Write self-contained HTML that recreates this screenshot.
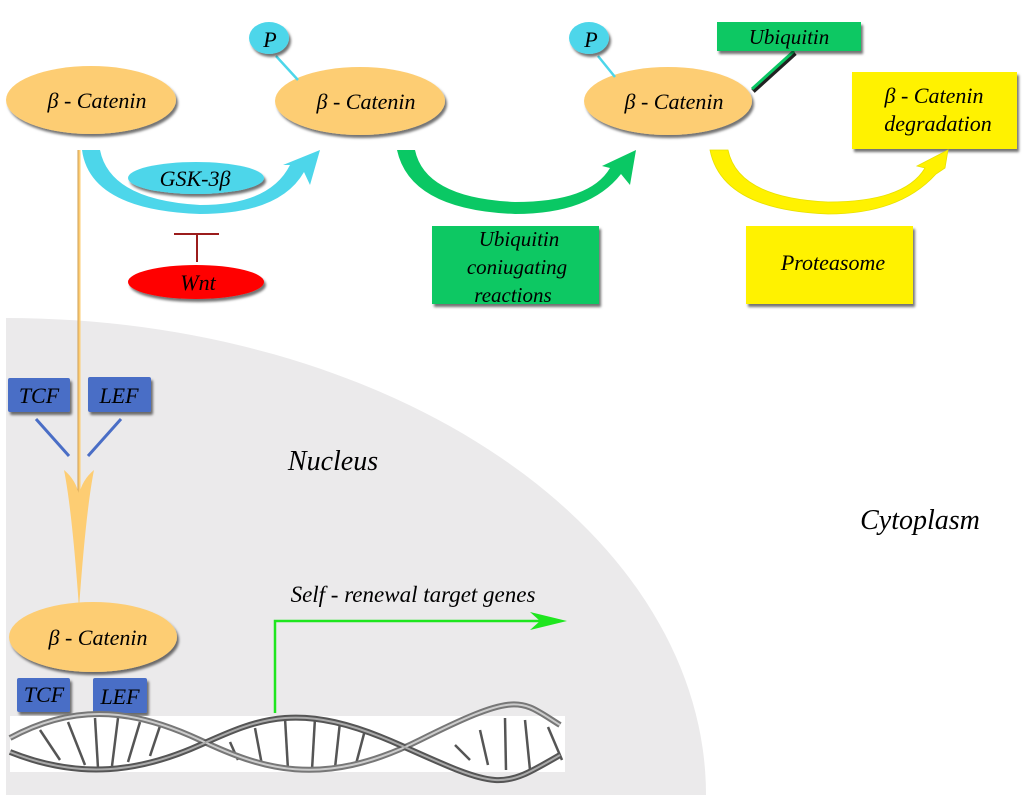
<!DOCTYPE html>
<html><head><meta charset="utf-8"><style>
html,body{margin:0;padding:0;background:#fff;width:1024px;height:800px;overflow:hidden}
svg text{font-family:"Liberation Serif",serif;font-style:italic;fill:#000}
</style></head><body>
<svg width="1024" height="800" viewBox="0 0 1024 800" xmlns="http://www.w3.org/2000/svg">
<defs>
<filter id="sh" x="-10%" y="-10%" width="130%" height="140%"><feDropShadow dx="2" dy="3" stdDeviation="1.2" flood-color="#000" flood-opacity="0.55"/></filter>
</defs>
<!-- nucleus -->
<path d="M6,795 L6,318 A700,477 0 0 1 706,795 Z" fill="#ebeaeb"/>
<!-- top ellipses -->
<g filter="url(#sh)">
<ellipse cx="91" cy="100" rx="85" ry="34" fill="#fdcd73"/>
<ellipse cx="360" cy="101" rx="85" ry="34" fill="#fdcd73"/>
<ellipse cx="668" cy="101" rx="84" ry="34" fill="#fdcd73"/>
<ellipse cx="93" cy="637" rx="84" ry="35" fill="#fdcd73"/>
</g>
<text x="97" y="108" font-size="22" text-anchor="middle">β - Catenin</text>
<text x="366" y="109" font-size="22" text-anchor="middle">β - Catenin</text>
<text x="674" y="109" font-size="22" text-anchor="middle">β - Catenin</text>
<text x="98" y="645" font-size="22" text-anchor="middle">β - Catenin</text>
<!-- P circles -->
<line x1="276" y1="56" x2="298" y2="80" stroke="#4dd6ea" stroke-width="2.5"/>
<line x1="598" y1="56" x2="615" y2="77" stroke="#4dd6ea" stroke-width="2.5"/>
<g filter="url(#sh)">
<ellipse cx="269" cy="38" rx="20" ry="16" fill="#4dd6ea"/>
<ellipse cx="589" cy="38" rx="20" ry="16" fill="#4dd6ea"/>
</g>
<text x="270" y="47" font-size="22" text-anchor="middle">P</text>
<text x="591" y="47" font-size="22" text-anchor="middle">P</text>
<!-- ubiquitin -->
<line x1="795" y1="53" x2="753" y2="91" stroke="#222" stroke-width="5"/>
<line x1="794" y1="51" x2="752" y2="89" stroke="#0ac864" stroke-width="3"/>
<rect x="717" y="22" width="144" height="29" fill="#0ac864" filter="url(#sh)"/>
<text x="789" y="44" font-size="21" text-anchor="middle">Ubiquitin</text>
<!-- degradation -->
<rect x="852" y="72" width="165" height="77" fill="#fff200" filter="url(#sh)"/>
<text x="934" y="103" font-size="22" text-anchor="middle">β - Catenin</text>
<text x="938" y="131" font-size="22" text-anchor="middle">degradation</text>
<!-- blue arrow -->
<path d="M82,150 L100,150 Q110,200 200,205 Q270,205 290,165 L283,165 L320,150 L310,185 L304,172 Q280,214 200,214 Q90,210 82,150 Z" fill="#4dd6ea"/>
<!-- GSK -->
<ellipse cx="196" cy="178" rx="68" ry="16" fill="#4dd6ea" filter="url(#sh)"/>
<text x="195" y="186" font-size="22" text-anchor="middle">GSK-3β</text>
<!-- Wnt -->
<line x1="174" y1="234" x2="219" y2="234" stroke="#9b1c1c" stroke-width="2"/>
<line x1="197" y1="234" x2="197" y2="262" stroke="#9b1c1c" stroke-width="2"/>
<ellipse cx="196" cy="282" rx="68" ry="17" fill="#ff0000" filter="url(#sh)"/>
<text x="198" y="290" font-size="22" text-anchor="middle">Wnt</text>
<!-- green arrow -->
<path d="M397,150 L415,150 Q425,198 515,202 Q590,202 610,168 L602,166 L636,150 L630,185 L621,174 Q590,214 515,214 Q410,210 397,150 Z" fill="#0ac864"/>
<rect x="432" y="226" width="167" height="78" fill="#0ac864" filter="url(#sh)"/>
<text x="519" y="246" font-size="21" text-anchor="middle">Ubiquitin</text>
<text x="517" y="274" font-size="21" text-anchor="middle">coniugating</text>
<text x="513" y="302" font-size="21" text-anchor="middle">reactions</text>
<!-- yellow arrow -->
<path d="M710,150 L728,150 Q738,198 828,202 Q905,202 925,168 L917,166 L948,150 L945,168 L936,174 Q900,214 828,214 Q722,210 710,150 Z" fill="#fff200" stroke="#e8e000" stroke-width="0.8"/>
<rect x="746" y="226" width="167" height="78" fill="#fff200" filter="url(#sh)"/>
<text x="833" y="270" font-size="22" text-anchor="middle">Proteasome</text>
<!-- orange vertical -->
<line x1="79" y1="150" x2="79" y2="495" stroke="#fdcd73" stroke-width="3"/>
<line x1="78" y1="150" x2="78" y2="495" stroke="#b08040" stroke-width="0.6"/>
<path d="M64,470 Q76,480 79,495 Q82,480 94,470 Q86,510 79,608 Q72,510 64,470 Z" fill="#fdcd73"/>
<!-- TCF/LEF -->
<g filter="url(#sh)">
<rect x="8" y="378" width="62" height="34" rx="2" fill="#4a6ec6"/>
<rect x="88" y="377" width="63" height="35" rx="2" fill="#4a6ec6"/>
<rect x="17" y="678" width="53" height="34" rx="2" fill="#4a6ec6"/>
<rect x="93" y="678" width="54" height="35" rx="2" fill="#4a6ec6"/>
</g>
<text x="39" y="403" font-size="22" text-anchor="middle">TCF</text>
<text x="119" y="403" font-size="22" text-anchor="middle">LEF</text>
<text x="44" y="702" font-size="22" text-anchor="middle">TCF</text>
<text x="120" y="704" font-size="22" text-anchor="middle">LEF</text>
<line x1="36" y1="419" x2="69" y2="456" stroke="#4a6ec6" stroke-width="3"/>
<line x1="121" y1="419" x2="88" y2="456" stroke="#4a6ec6" stroke-width="3"/>
<!-- labels -->
<text x="333" y="470" font-size="28" text-anchor="middle">Nucleus</text>
<text x="920" y="529" font-size="28" text-anchor="middle">Cytoplasm</text>
<text x="413" y="602" font-size="23" text-anchor="middle">Self - renewal target genes</text>
<!-- gene arrow -->
<polyline points="275,713 275,621 545,621" fill="none" stroke="#1ee61e" stroke-width="2.5"/>
<path d="M530,612 L567,621 L530,630 L540,621 Z" fill="#1ee61e"/>
<!-- DNA -->
<rect x="10" y="716" width="555" height="56" fill="#fff"/>
<g stroke="#555" stroke-width="2.5">
<line x1="40" y1="730" x2="60" y2="760"/><line x1="68" y1="722" x2="85" y2="765"/>
<line x1="95" y1="718" x2="98" y2="768"/><line x1="118" y1="718" x2="112" y2="766"/>
<line x1="140" y1="722" x2="128" y2="762"/><line x1="160" y1="726" x2="150" y2="756"/>
<line x1="230" y1="742" x2="238" y2="760"/><line x1="255" y1="728" x2="262" y2="765"/>
<line x1="285" y1="718" x2="288" y2="770"/><line x1="315" y1="718" x2="312" y2="770"/>
<line x1="340" y1="722" x2="335" y2="768"/><line x1="365" y1="730" x2="356" y2="764"/>
<line x1="455" y1="745" x2="470" y2="760"/><line x1="480" y1="730" x2="488" y2="765"/>
<line x1="505" y1="718" x2="506" y2="770"/><line x1="525" y1="720" x2="530" y2="770"/>
<line x1="548" y1="727" x2="562" y2="760"/>
</g>
<path d="M10,738 C80,700 140,712 200,740 S320,790 420,740 S520,700 560,725" fill="none" stroke="#777" stroke-width="6"/>
<path d="M10,752 C80,780 140,772 200,745 S300,700 400,745 S500,790 560,755" fill="none" stroke="#555" stroke-width="6"/>
<path d="M10,738 C80,700 140,712 200,740 S320,790 420,740 S520,700 560,725" fill="none" stroke="#ccc" stroke-width="2"/>
<path d="M10,752 C80,780 140,772 200,745 S300,700 400,745 S500,790 560,755" fill="none" stroke="#aaa" stroke-width="2"/>
</svg>
</body></html>
